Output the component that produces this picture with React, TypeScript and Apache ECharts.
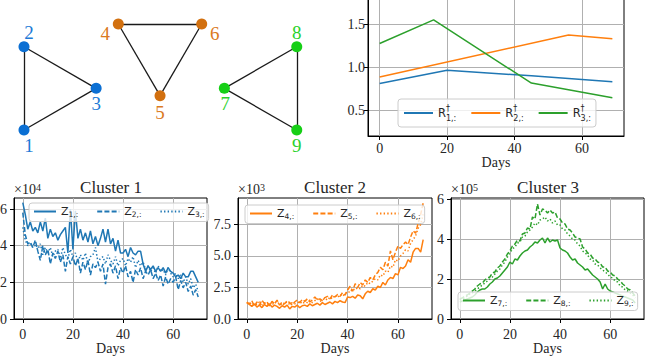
import React, { useEffect, useRef } from 'react';
import * as echarts from 'echarts';

// ---------------- data ----------------
const nodeNames = ['1', '2', '3', '4', '5', '6', '7', '8', '9'];
const nodeX = [0, 0, 0.866, 1.132, 1.633, 2.133, 2.405, 3.274, 3.274];
const nodeY = [0, 1, 0.5, 1.2725, 0.412, 1.2725, 0.5, 1, 0];
const nodeCluster = [0, 0, 0, 1, 1, 1, 2, 2, 2];
const edges = [[0, 1], [0, 2], [1, 2], [3, 4], [3, 5], [4, 5], [6, 7], [6, 8], [7, 8]];

const r1Days = [0, 20, 45, 69];
const r1Values = [0.81, 0.965, 0.9, 0.83];
const r2Days = [0, 56, 69];
const r2Values = [0.885, 1.375, 1.33];
const r3Days = [0, 16, 45, 69];
const r3Values = [1.275, 1.55, 0.815, 0.645];

const dayTicks = [0, 20, 40, 60];
const rTicks = [0.5, 1.0, 1.5];
const c1Ticks = [0, 2, 4, 6];
const c2Ticks = [0, 2.5, 5, 7.5];
const c3Ticks = [0, 2, 4, 6];

// cluster 1 (x10^4)
const z1 = [
  6.35, 5.7, 4.9, 5.3, 4.8, 5.0, 4.7, 5.3, 4.8, 5.5,
  4.4, 4.9, 4.5, 4.7, 4.3, 4.6, 4.8, 5.0, 3.6, 6.0,
  3.8, 5.9, 4.4, 4.9, 4.3, 4.7, 4.2, 4.8, 4.1, 4.5,
  4.0, 4.4, 4.9, 4.2, 4.9, 4.1, 4.4, 3.7, 4.3, 3.6,
  3.6, 3.8, 3.4, 3.9, 3.6, 3.5, 3.7, 3.7, 3.0, 2.6,
  2.9, 2.7, 2.9, 2.6, 2.8, 2.6, 2.8, 2.5, 2.8, 2.6,
  2.5, 2.3, 2.4, 2.2, 2.5, 2.3, 2.3, 2.6, 2.6, 2.3,
  2.0,
];
const z2 = [
  5.8, 4.6, 4.1, 4.2, 3.9, 4.3, 3.7, 3.2, 4.0, 3.5,
  3.8, 3.0, 3.6, 3.3, 3.7, 3.1, 3.5, 2.6, 3.4, 3.0,
  3.4, 2.9, 3.3, 2.5, 3.1, 2.7, 3.2, 2.4, 3.0, 2.8,
  3.1, 2.6, 3.0, 1.9, 2.8, 3.0, 2.5, 2.9, 2.2, 2.8,
  2.5, 2.9, 2.3, 2.6, 2.0, 2.7, 2.4, 2.8, 2.2, 2.6,
  2.4, 2.7, 2.2, 2.5, 2.1, 2.4, 1.8, 2.3, 1.9, 2.2,
  2.0, 2.3, 1.6, 2.1, 1.7, 2.0, 1.5, 1.8, 1.3, 1.6,
  1.2,
];
const z3 = [
  5.0, 4.3, 4.0, 4.1, 3.9, 4.0, 3.8, 4.1, 3.5, 3.9,
  3.6, 3.9, 3.4, 3.7, 3.8, 3.3, 3.9, 3.5, 3.3, 3.8,
  3.4, 3.6, 3.1, 3.5, 3.2, 3.6, 3.0, 3.4, 3.5, 3.9,
  3.1, 3.3, 3.4, 3.0, 3.5, 3.2, 3.0, 3.4, 2.9, 3.2,
  3.3, 2.9, 3.3, 3.1, 3.4, 2.8, 3.2, 2.9, 3.1, 2.7,
  2.9, 2.6, 2.8, 2.5, 2.9, 2.6, 2.7, 2.4, 2.8, 2.5,
  2.3, 2.5, 2.2, 2.4, 2.0, 2.3, 1.9, 2.2, 1.7, 1.9,
  1.5,
];
// cluster 2 (x10^3)
const z4 = [
  1.3, 1.15, 1.0, 1.2, 0.95, 1.1, 0.9, 1.15, 1.0, 1.2,
  0.95, 1.1, 1.0, 0.85, 1.05, 0.95, 1.1, 0.8, 1.0, 0.95,
  1.1, 0.9, 1.05, 1.1, 1.0, 1.2, 1.05, 1.15, 1.25, 1.1,
  1.3, 1.15, 1.25, 1.35, 1.2, 1.4, 1.3, 1.45, 1.35, 1.3,
  1.75, 1.7, 1.8, 1.65, 1.9, 1.85, 1.6, 2.0, 2.2, 2.1,
  2.4, 2.3, 2.6, 2.5, 2.9, 2.7, 3.1, 3.3, 3.2, 3.6,
  3.5, 4.1, 4.0, 4.2, 4.7, 4.5, 5.3, 5.6, 5.6, 5.3,
  6.3,
];
const z5 = [
  1.35, 1.2, 1.45, 1.0, 1.35, 1.1, 1.5, 1.2, 1.35, 1.05,
  1.4, 1.2, 1.5, 1.1, 1.35, 1.2, 1.45, 1.3, 1.1, 1.35,
  1.5, 1.3, 1.55, 1.4, 1.6, 1.35, 1.5, 1.75, 1.5, 1.6,
  1.45, 1.7, 1.8, 1.6, 1.9, 1.75, 1.95, 1.8, 2.1, 1.9,
  2.3, 2.6, 2.2, 2.8, 2.5, 2.9, 2.7, 3.1, 2.9, 3.3,
  3.1, 3.5, 3.7, 4.1, 3.9, 4.5, 4.2, 5.4, 4.7, 5.3,
  5.8, 5.6, 5.9, 6.1, 5.9, 6.5, 7.0, 6.8, 7.6, 8.3,
  9.2,
];
const z6 = [
  1.25, 1.3, 1.1, 1.25, 1.15, 1.35, 1.0, 1.3, 1.15, 1.3,
  1.1, 1.35, 1.2, 1.3, 1.05, 1.25, 1.35, 1.15, 1.3, 1.2,
  1.25, 1.4, 1.2, 1.35, 1.3, 1.5, 1.3, 1.45, 1.6, 1.4,
  1.5, 1.65, 1.5, 1.75, 1.6, 1.9, 1.7, 1.95, 1.8, 2.0,
  2.2, 2.1, 2.4, 2.3, 2.5, 2.4, 2.7, 2.6, 2.9, 2.8,
  3.0, 3.2, 3.1, 3.5, 3.4, 3.8, 3.7, 4.2, 4.1, 4.7,
  4.6, 5.0, 5.2, 5.5, 5.4, 6.0, 6.3, 6.6, 7.2, 7.5,
  8.3,
];
// cluster 3 (x10^5)
const z7 = [
  0.85, 0.9, 0.95, 1.0, 1.05, 1.1, 1.2, 1.35, 1.45, 1.5,
  1.5, 1.6, 1.75, 1.85, 2.0, 2.05, 2.15, 2.3, 2.45, 2.6,
  2.85, 2.75, 3.0, 2.95, 3.15, 3.3, 3.4, 3.45, 3.6, 3.7,
  3.85, 3.8, 3.95, 4.05, 3.8, 4.05, 3.85, 3.95, 3.9, 3.95,
  3.55, 3.45, 3.4, 3.3, 3.1, 2.95, 3.0, 2.8, 2.7, 2.6,
  2.45, 2.5, 2.35, 2.2, 2.1, 2.0, 1.85, 1.5, 1.75, 1.5,
  1.4, 1.35, 1.3, 1.25, 1.2, 1.15, 1.1, 1.05, 1.0, 0.95,
  0.8,
];
const z8 = [
  1.0, 1.05, 1.15, 1.2, 1.3, 1.4, 1.5, 1.65, 1.75, 1.8,
  1.95, 2.05, 2.1, 2.3, 2.35, 2.55, 2.65, 2.85, 3.0, 3.25,
  3.4, 3.65, 3.75, 3.95, 3.9, 4.25, 4.3, 4.55, 4.5, 5.1,
  5.0, 5.75, 5.2, 5.5, 5.45, 5.3, 5.45, 5.3, 5.35, 5.05,
  5.0, 4.8, 4.75, 4.5, 4.45, 4.3, 4.1, 4.05, 4.0, 3.6,
  3.5, 3.3, 3.25, 3.05, 3.0, 2.85, 2.8, 2.6, 2.6, 2.4,
  2.35, 2.2, 2.15, 2.0, 1.9, 1.75, 1.65, 1.5, 1.45, 1.3,
  1.15,
];
const z9 = [
  0.95, 1.0, 1.05, 1.15, 1.25, 1.3, 1.4, 1.5, 1.6, 1.7,
  1.8, 1.9, 2.0, 2.1, 2.25, 2.4, 2.5, 2.7, 2.85, 3.1,
  3.3, 3.5, 3.6, 3.8, 3.85, 4.1, 4.15, 4.35, 4.45, 4.6,
  4.8, 4.7, 4.95, 5.0, 5.1, 4.9, 5.0, 4.8, 4.9, 4.7,
  4.7, 4.5, 4.45, 4.25, 4.15, 4.0, 3.95, 3.75, 3.65, 3.4,
  3.3, 3.2, 3.0, 2.95, 2.75, 2.7, 2.55, 2.45, 2.35, 2.25,
  2.1, 2.05, 1.9, 1.85, 1.65, 1.6, 1.45, 1.4, 1.3, 1.2,
  1.05,
];

// ---------------- styles ----------------
const SERIF = "'Liberation Serif', 'Times New Roman', serif";
const SANS = "'DejaVu Sans', 'Noto Sans', sans-serif";
const INK = '#262626';
const LINE_COLORS = ['#1f77b4', '#ff7f0e', '#2ca02c'];
const NODE_COLORS = ['#0b6fd3', '#d2700f', '#16cf16'];
const LABEL_COLORS = ['#2079d6', '#db7a1e', '#2bd22b'];
const LABEL_OFFSETS = [[5, 15], [5, -14], [0, 15], [-13, 9], [0, 17], [13, 9], [1, 15], [0, -14], [0, 15]];
const DASHES: any[] = ['solid', [5, 2.2], [1.4, 2.2]];

const toPairs = (xs: number[], ys: number[]) => ys.map((v, i) => [xs[i], v]);
const byDay = (ys: number[]) => ys.map((v, i) => [i, v]);

function xAxisFor(gridIndex: number, min: number, max: number, nameGap: number, margin: number) {
  return {
    type: 'value', gridIndex, min, max,
    name: 'Days', nameLocation: 'middle', nameGap,
    nameTextStyle: { fontFamily: SERIF, fontSize: 14, color: INK },
    axisLine: { show: true, onZero: false, lineStyle: { color: '#000', width: 1 } },
    axisTick: { show: true, inside: false, length: 4, customValues: dayTicks, lineStyle: { color: '#000', width: 1 } },
    axisLabel: { customValues: dayTicks, margin, fontFamily: SERIF, fontSize: 14, color: INK },
    splitLine: { show: true, lineStyle: { color: '#b0b0b0', width: 1 } },
  };
}

function yAxisFor(gridIndex: number, min: number, max: number, ticks: number[], decimals: number, margin: number, exp: string | null) {
  return {
    type: 'value', gridIndex, min, max,
    name: exp ? `{a|×10}{b|${exp}}` : '',
    nameLocation: 'end', nameGap: 2,
    nameTextStyle: {
      align: 'left', verticalAlign: 'bottom',
      rich: {
        a: { fontFamily: SERIF, fontSize: 14, color: INK, lineHeight: 14 },
        b: { fontFamily: SERIF, fontSize: 10, color: INK, lineHeight: 10, verticalAlign: 'top' },
      },
    },
    axisLine: { show: true, onZero: false, lineStyle: { color: '#000', width: 1 } },
    axisTick: { show: true, inside: false, length: 4, customValues: ticks, lineStyle: { color: '#000', width: 1 } },
    axisLabel: {
      customValues: ticks, margin, fontFamily: SERIF, fontSize: 14, color: INK,
      formatter: (v: number) => v.toFixed(decimals),
    },
    splitLine: { show: true, lineStyle: { color: '#b0b0b0', width: 1 } },
  };
}

function lineSeries(name: string, data: any[], axis: number, color: string, dash: any) {
  return {
    type: 'line', name, data, xAxisIndex: axis, yAxisIndex: axis,
    showSymbol: false, symbol: 'none', silent: true,
    itemStyle: { color },
    lineStyle: { color, width: 1.5, type: dash },
    z: 3,
  };
}

const zRich = {
  m: { fontFamily: SANS, fontSize: 11, color: INK, lineHeight: 14 },
  s: { fontFamily: SANS, fontSize: 7.5, color: INK, lineHeight: 8, verticalAlign: 'bottom' },
};
const rRich = {
  m: { fontFamily: SANS, fontSize: 11.5, color: INK, lineHeight: 18 },
  d: { fontFamily: SANS, fontSize: 8, color: INK, lineHeight: 8, verticalAlign: 'top', width: 0 },
  s: { fontFamily: SANS, fontSize: 8, color: INK, lineHeight: 8, verticalAlign: 'bottom' },
};

function legendFor(names: string[], left: number, top: number, letter: string, itemWidth: number, itemGap: number, padding: number[], rich: any) {
  return {
    data: names, left, top, orient: 'horizontal', selectedMode: false,
    itemWidth, itemHeight: 10, itemGap, padding,
    backgroundColor: 'rgba(255,255,255,0.8)', borderColor: '#cccccc', borderWidth: 1, borderRadius: 3,
    itemStyle: { color: 'rgba(0,0,0,0)', borderColor: 'rgba(0,0,0,0)', borderWidth: 0 },
    textStyle: { rich },
    formatter: (name: string) => {
      const idx = name.slice(1);
      return letter === 'R' ? `{m|R}{d|†}{s|${idx},:}` : `{m|Z}{s|${idx},:}`;
    },
  };
}

const gridBox = { show: true, borderColor: '#000', borderWidth: 1, outerBoundsMode: 'none', containLabel: false };

export default function App() {
  const ref = useRef<HTMLDivElement>(null);
  useEffect(() => {
    if (!ref.current) return;
    const chart = echarts.init(ref.current, undefined, { renderer: 'svg' });

    const graphNodes = nodeNames.map((n, i) => ({
      name: n,
      value: [nodeX[i], nodeY[i]],
      itemStyle: { color: NODE_COLORS[nodeCluster[i]] },
      label: { offset: LABEL_OFFSETS[i], color: LABEL_COLORS[nodeCluster[i]] },
    }));
    const graphLinks = edges.map(([s, t]) => ({ source: s, target: t }));

    const option: any = {
      animation: false,
      textStyle: { fontFamily: SERIF },
      grid: [
        { left: 0, top: 0, width: 330, height: 165, show: false, outerBoundsMode: 'none' },
        { ...gridBox, left: 368, top: -5, width: 256, height: 141 },
        { ...gridBox, left: 14, top: 198, width: 193, height: 121 },
        { ...gridBox, left: 238, top: 198, width: 194, height: 121 },
        { ...gridBox, left: 451, top: 198, width: 193, height: 121 },
      ],
      xAxis: [
        { type: 'value', gridIndex: 0, min: -0.288, max: 3.673, show: false },
        xAxisFor(1, -3.45, 72.45, 19, 5),
        xAxisFor(2, -3.5, 73.5, 21, 8),
        xAxisFor(3, -3.5, 73.5, 21, 8),
        xAxisFor(4, -3.5, 73.5, 21, 8),
      ],
      yAxis: [
        { type: 'value', gridIndex: 0, min: -0.42, max: 1.5606, show: false },
        yAxisFor(1, 0.2, 1.8395, rTicks, 1, 3, null),
        yAxisFor(2, 0, 6.6, c1Ticks, 0, 7, '4'),
        yAxisFor(3, 0, 9.6, c2Ticks, 1, 7, '3'),
        yAxisFor(4, 0, 6.05, c3Ticks, 0, 7, '5'),
      ],
      legend: [
        legendFor(['R1', 'R2', 'R3'], 398, 99, 'R', 29, 14, [5, 5, 5, 5], rRich),
        legendFor(['Z1', 'Z2', 'Z3'], 29, 203, 'Z', 22, 18, [3, 4, 3, 4], zRich),
        legendFor(['Z4', 'Z5', 'Z6'], 245, 205, 'Z', 22, 18, [3, 4, 3, 4], zRich),
        legendFor(['Z7', 'Z8', 'Z9'], 458, 292, 'Z', 22, 18, [3, 4, 3, 4], zRich),
      ],
      graphic: [
        { type: 'text', x: 111, y: 187, style: { text: 'Cluster 1', fontFamily: SERIF, fontSize: 17, fill: INK, align: 'center', verticalAlign: 'middle' } },
        { type: 'text', x: 335, y: 187, style: { text: 'Cluster 2', fontFamily: SERIF, fontSize: 17, fill: INK, align: 'center', verticalAlign: 'middle' } },
        { type: 'text', x: 548, y: 187, style: { text: 'Cluster 3', fontFamily: SERIF, fontSize: 17, fill: INK, align: 'center', verticalAlign: 'middle' } },
      ],
      series: [
        {
          type: 'graph', coordinateSystem: 'cartesian2d', xAxisIndex: 0, yAxisIndex: 0,
          symbol: 'circle', symbolSize: 11, silent: true,
          data: graphNodes, links: graphLinks,
          edgeSymbol: ['none', 'none'],
          lineStyle: { color: '#1a1a1a', width: 1.3, opacity: 1, curveness: 0 },
          label: { show: true, position: 'inside', fontFamily: SERIF, fontSize: 19, formatter: '{b}' },
        },
        lineSeries('R1', toPairs(r1Days, r1Values), 1, LINE_COLORS[0], 'solid'),
        lineSeries('R2', toPairs(r2Days, r2Values), 1, LINE_COLORS[1], 'solid'),
        lineSeries('R3', toPairs(r3Days, r3Values), 1, LINE_COLORS[2], 'solid'),
        lineSeries('Z1', byDay(z1), 2, LINE_COLORS[0], DASHES[0]),
        lineSeries('Z2', byDay(z2), 2, LINE_COLORS[0], DASHES[1]),
        lineSeries('Z3', byDay(z3), 2, LINE_COLORS[0], DASHES[2]),
        lineSeries('Z4', byDay(z4), 3, LINE_COLORS[1], DASHES[0]),
        lineSeries('Z5', byDay(z5), 3, LINE_COLORS[1], DASHES[1]),
        lineSeries('Z6', byDay(z6), 3, LINE_COLORS[1], DASHES[2]),
        lineSeries('Z7', byDay(z7), 4, LINE_COLORS[2], DASHES[0]),
        lineSeries('Z8', byDay(z8), 4, LINE_COLORS[2], DASHES[1]),
        lineSeries('Z9', byDay(z9), 4, LINE_COLORS[2], DASHES[2]),
      ],
    };
    chart.setOption(option);
    return () => chart.dispose();
  }, []);
  return <div ref={ref} style={{ position: 'absolute', left: 0, top: 0, width: 662, height: 362 }} />;
}
